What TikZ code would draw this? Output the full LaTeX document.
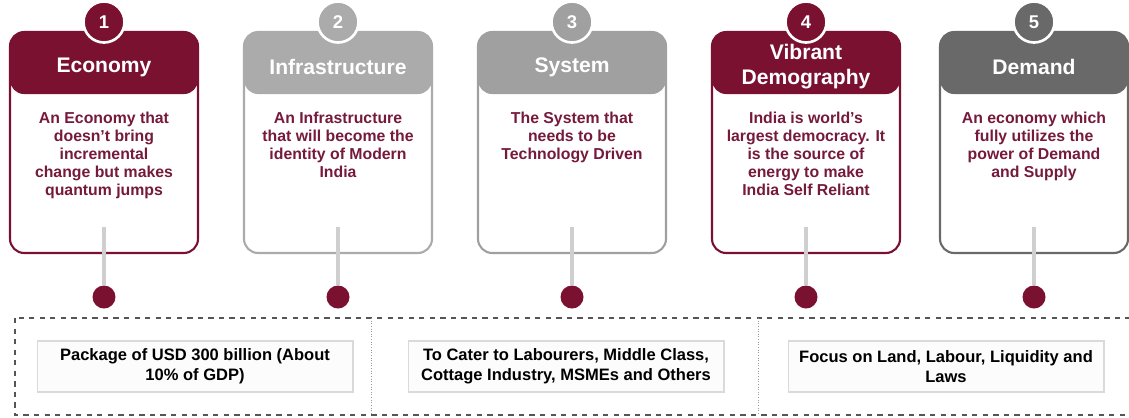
\documentclass[tikz,border=0pt]{standalone}
\usepackage{fontspec}
\setmainfont{Liberation Sans}
\usepackage{xcolor}
\usepackage{tikz}
\usetikzlibrary{calc}
\definecolor{maroon}{HTML}{7B1131}
\definecolor{lgray}{HTML}{ABABAB}
\definecolor{mgray}{HTML}{A0A0A0}
\definecolor{dgray}{HTML}{696969}
\definecolor{bodytext}{HTML}{761A3C}
\definecolor{stemgray}{HTML}{CFCFCF}
\definecolor{framegray}{HTML}{555555}
\definecolor{divgray}{HTML}{9A9A9A}
\definecolor{boxline}{HTML}{DADADA}
\definecolor{boxfill}{HTML}{FCFCFC}
\tikzset{
  card/.style={draw=#1, fill=white, line width=1.2pt, rounded corners=8pt,
    minimum width=3.76cm, minimum height=4.42cm, inner sep=0pt,
    path picture={\fill[#1] (path picture bounding box.north west) rectangle
      ([yshift=-1.24cm]path picture bounding box.north east);}},
  num/.style={circle, fill=#1, draw=white, line width=1.5pt, minimum size=0.82cm,
    inner sep=0pt, text=white, font=\bfseries\fontsize{10.5}{12}\selectfont},
  ttl/.style={text=white, align=center, font=\bfseries\fontsize{12}{14.2}\selectfont},
  body/.style={text=bodytext, align=center, anchor=north,
    font=\bfseries\fontsize{9}{10.2}\selectfont},
  dot/.style={circle, fill=maroon, inner sep=0pt, minimum size=0.46cm},
  stem/.style={draw=stemgray, line width=2.2pt},
  frame/.style={draw=framegray, dashed, line width=0.6pt},
  divider/.style={draw=divgray, densely dotted, line width=0.5pt},
  note/.style={draw=boxline, fill=boxfill, line width=0.6pt, minimum width=6.32cm,
    minimum height=1.02cm, align=center, font=\bfseries\fontsize{9.4}{11.3}\selectfont},
}

\begin{document}
\begin{tikzpicture}[x=0.02cm,y=-0.02cm]
  \useasboundingbox (0,0) rectangle (1129,417);

  % the five pillars
  \foreach \i/\cx/\col/\head/\txt in {
    1/104/maroon/Economy/{An Economy that\\doesn't bring\\incremental\\change but makes\\quantum jumps},
    2/338/lgray/Infrastructure/{An Infrastructure\\that will become the\\identity of Modern\\India},
    3/572/mgray/System/{The System that\\needs to be\\Technology Driven},
    4/806/maroon/{Vibrant\\Demography}/{India is world's\\largest democracy. It\\is the source of\\energy to make\\India Self Reliant},
    5/1034/dgray/Demand/{An economy which\\fully utilizes the\\power of Demand\\and Supply}}{
    \node[card=\col] (c\i) at (\cx,142.5) {};
    \node[ttl] (t\i) at (\cx,67) {\head};
    \node[body] (b\i) at (\cx,106) {\txt};
    \node[num=\col] (n\i) at (\cx,22) {\i};
    \coordinate (s\i) at (\cx,227);
    \node[dot] (d\i) at (\cx,297) {};
    \draw[stem] (s\i) -- (d\i);
  }

  % stimulus frame
  \draw[frame] (15,318) rectangle (1140,415);
  \draw[divider] (371,318) -- (371,415);
  \draw[divider] (758,318) -- (758,415);

  \node[note] (p1) at (195,366.5) {Package of USD 300 billion (About\\10\% of GDP)};
  \node[note] (p2) at (566,366.5) {To Cater to Labourers, Middle Class,\\Cottage Industry, MSMEs and Others};
  \node[note] (p3) at (946,366.5) {Focus on Land, Labour, Liquidity and\\Laws};
\end{tikzpicture}
\end{document}
